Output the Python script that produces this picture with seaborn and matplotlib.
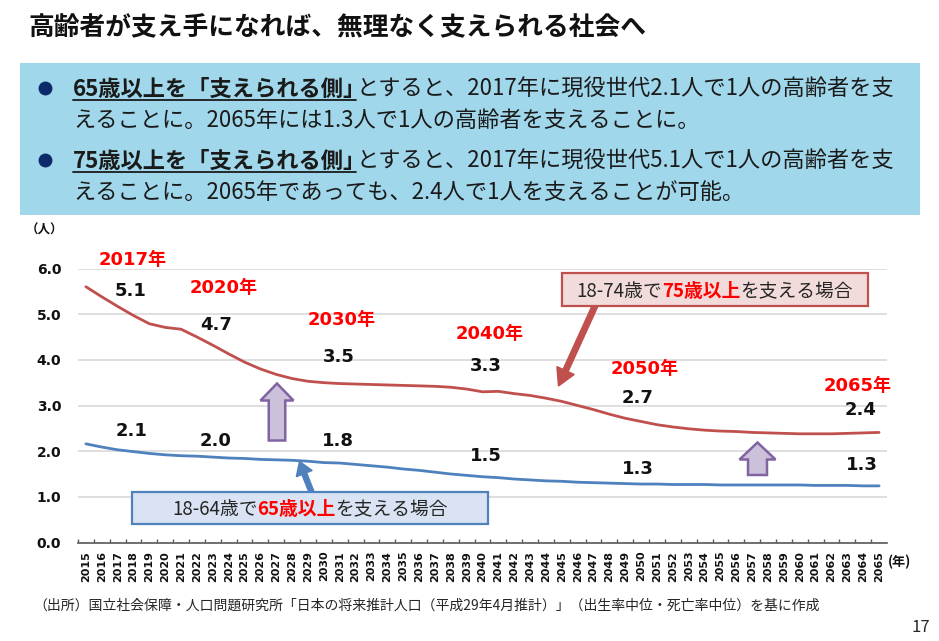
import matplotlib
matplotlib.use("Agg")
import matplotlib.pyplot as plt
import seaborn as sns
import pandas as pd
from matplotlib.patches import Rectangle, Polygon, FancyArrow
from matplotlib.transforms import Affine2D
from matplotlib.lines import Line2D

# データ
years = list(range(2015, 2066))
ratio_75 = [5.60, 5.38, 5.17, 4.97, 4.79, 4.71, 4.67, 4.50, 4.32, 4.13,
            3.95, 3.80, 3.68, 3.59, 3.53, 3.50, 3.48, 3.47, 3.46, 3.45,
            3.44, 3.43, 3.42, 3.40, 3.36, 3.30, 3.31, 3.26, 3.22, 3.16,
            3.09, 3.00, 2.91, 2.81, 2.72, 2.65, 2.58, 2.53, 2.49, 2.46,
            2.44, 2.43, 2.41, 2.40, 2.39, 2.38, 2.38, 2.38, 2.39, 2.40, 2.41]
ratio_65 = [2.16, 2.09, 2.03, 1.99, 1.95, 1.92, 1.90, 1.89, 1.87, 1.85,
            1.84, 1.82, 1.81, 1.80, 1.78, 1.75, 1.74, 1.71, 1.68, 1.65,
            1.61, 1.58, 1.54, 1.50, 1.47, 1.44, 1.42, 1.39, 1.37, 1.35,
            1.34, 1.32, 1.31, 1.30, 1.29, 1.28, 1.28, 1.27, 1.27, 1.27,
            1.26, 1.26, 1.26, 1.26, 1.26, 1.26, 1.25, 1.25, 1.25, 1.24, 1.24]
y_ticks = [0.0, 1.0, 2.0, 3.0, 4.0, 5.0, 6.0]

# 注記（年ラベルと値ラベル）
year_labels = ["2017年", "2020年", "2030年", "2040年", "2050年", "2065年"]
label_75 = ["5.1", "4.7", "3.5", "3.3", "2.7", "2.4"]
label_65 = ["2.1", "2.0", "1.8", "1.5", "1.3", "1.3"]

title = "高齢者が支え手になれば、無理なく支えられる社会へ"
source = "（出所）国立社会保障・人口問題研究所「日本の将来推計人口（平成29年4月推計）」（出生率中位・死亡率中位）を基に作成"

W, H, DPI = 939, 641, 100
RED = "#c0504d"
BLUE = "#4f81bd"
NAVY = "#0d2a6b"

sns.set_theme(style="white")
JP = ["Noto Sans CJK JP", "DejaVu Sans"]
NUM = ["DejaVu Sans", "Noto Sans CJK JP"]
plt.rcParams["font.family"] = JP

fig = plt.figure(figsize=(W / DPI, H / DPI), dpi=DPI)
# ピクセル座標（左上原点）
PX = Affine2D().scale(1 / DPI, -1 / DPI).translate(0, H / DPI) + fig.dpi_scale_trans
renderer = fig.canvas.get_renderer()


def rich(parts, x, y, size, family=JP, center=False, trim=None):
    """色・太さの違う文字列を横に並べる（trim: 各部分の後ろを詰める量 em）"""
    trim = trim or [0] * len(parts)
    em = size * DPI / 72
    arts = []
    for txt, col, wt in parts:
        arts.append(fig.text(0, 0, txt, transform=PX, fontsize=size, color=col,
                             fontweight=wt, family=family, ha="left", va="baseline"))
    widths = [a.get_window_extent(renderer).width - t * em for a, t in zip(arts, trim)]
    x0 = x - sum(widths) / 2 if center else x
    base = y + em * 0.36
    for a, w in zip(arts, widths):
        a.set_position((x0, base))
        x0 += w
    return arts, base, widths


def underline(x0, x1, base, color="#1a1a1a"):
    fig.add_artist(Line2D([x0, x1], [base + 4, base + 4], color=color,
                          lw=1.3, transform=PX))


def up_arrow(cx, y_tip, y_bot, shaft_w, head_w, head_len):
    pts = [(cx, y_tip), (cx + head_w / 2, y_tip + head_len),
           (cx + shaft_w / 2, y_tip + head_len), (cx + shaft_w / 2, y_bot),
           (cx - shaft_w / 2, y_bot), (cx - shaft_w / 2, y_tip + head_len),
           (cx - head_w / 2, y_tip + head_len)]
    fig.add_artist(Polygon(pts, closed=True, facecolor="#ccc1da", edgecolor="#8064a2",
                           lw=1.8, transform=PX))


# タイトル
fig.text(28, 28, title, transform=PX, fontsize=18.5, fontweight="bold",
         color="#111111", ha="left", va="center")

# 説明ボックス
fig.add_artist(Rectangle((20, 63), 900, 152, facecolor="#a0d7eb", edgecolor="none",
                         transform=PX))
for by in [88, 160]:
    fig.add_artist(Line2D([45], [by], marker="o", ms=9, color=NAVY, transform=PX))

bullets = [
    ("65歳以上を「支えられる側」", "とすると、2017年に現役世代2.1人で1人の高齢者を支",
     "えることに。2065年には1.3人で1人の高齢者を支えることに。", 88),
    ("75歳以上を「支えられる側」", "とすると、2017年に現役世代5.1人で1人の高齢者を支",
     "えることに。2065年であっても、2.4人で1人を支えることが可能。", 160),
]
for bold_part, rest, line2, by in bullets:
    arts, base, widths = rich([(bold_part, "#1a1a1a", "bold"), (rest, "#1a1a1a", "normal")],
                              73, by, 16, trim=[0.45, 0])
    bb = arts[0].get_window_extent(renderer)
    underline(arts[0].get_position()[0], arts[0].get_position()[0] + widths[0], base)
    rich([(line2, "#1a1a1a", "normal")], 73, by + 31, 16)

# グラフ本体
ax = fig.add_axes([78 / W, (H - 542.5) / H, 809 / W, 274 / H])
sns.lineplot(x=years, y=ratio_75, ax=ax, color=RED, lw=2.0)
sns.lineplot(x=years, y=ratio_65, ax=ax, color=BLUE, lw=2.0)

ax.set_xlim(2014.5, 2065.5)
ax.set_ylim(0, 6)
ax.set_yticks(y_ticks)
ax.set_yticklabels([f"{v:.1f}" for v in y_ticks], fontweight="bold", family=NUM,
                   fontsize=10)
ax.set_xticks(years)
ax.set_xticklabels([str(y) for y in years], rotation=90, fontweight="bold",
                   family=NUM, fontsize=8)
ax.set_xticks([y + 0.5 for y in years[:-1]] + [2014.5], minor=True)
ax.tick_params(axis="x", which="major", length=0, pad=6, colors="#111111")
ax.tick_params(axis="x", which="minor", direction="in", length=3, width=1,
               color="#595959", bottom=True)
ax.tick_params(axis="y", length=0, pad=12, colors="#111111")
ax.grid(axis="y", color="#d9d9d9", lw=1.2)
ax.set_axisbelow(True)
for s in ["top", "right", "left"]:
    ax.spines[s].set_visible(False)
ax.spines["bottom"].set_color("#595959")
ax.spines["bottom"].set_linewidth(1.2)
ax.set_xlabel("")
ax.set_ylabel("")

fig.text(45, 230, "（人）", transform=PX, fontsize=9, fontweight="bold",
         ha="center", va="center", color="#111111")
fig.text(888, 562, "(年)", transform=PX, fontsize=9.5, fontweight="bold",
         ha="left", va="center", color="#111111")

# 注記の位置（年座標, 値座標）
year_pos = [(2017.97, 6.18), (2023.71, 5.57), (2031.15, 4.87), (2040.48, 4.56),
            (2050.25, 3.81), (2063.62, 3.42)]
pos_75 = [(2017.84, 5.51), (2023.2, 4.76), (2030.96, 4.06), (2040.22, 3.86),
          (2049.8, 3.16), (2063.81, 2.91)]
pos_65 = [(2017.9, 2.45), (2023.2, 2.23), (2030.9, 2.22), (2040.22, 1.90),
          (2049.8, 1.61), (2063.93, 1.70)]
for txt, (x, y) in zip(year_labels, year_pos):
    ax.text(x, y, txt, color="#ff0000", fontweight="bold", fontsize=13, family=NUM,
            ha="center", va="center", clip_on=False)
for txt, (x, y) in zip(label_75, pos_75):
    ax.text(x, y, txt, color="#111111", fontweight="bold", fontsize=13, family=NUM,
            ha="center", va="center", clip_on=False)
for txt, (x, y) in zip(label_65, pos_65):
    ax.text(x, y, txt, color="#111111", fontweight="bold", fontsize=13, family=NUM,
            ha="center", va="center", clip_on=False)

# 上向き矢印
up_arrow(277, 383.5, 440.5, 16.5, 33, 17)
up_arrow(757.5, 442.5, 475, 19, 36, 17)

# 凡例ボックスと矢印
fig.add_artist(FancyArrow(595, 306, 558.5 - 595, 386 - 306, width=5.5, head_width=19,
                          head_length=17, length_includes_head=True, color=RED,
                          transform=PX))
fig.add_artist(Rectangle((561.7, 272.7), 306.6, 33.3, facecolor="#f2dcdb",
                         edgecolor=RED, lw=1.6, transform=PX))
rich([("18-74歳で", "#262626", "normal"), ("75歳以上", "#ff0000", "bold"),
      ("を支える場合", "#262626", "normal")], 715, 290, 13.5, center=True)

fig.add_artist(FancyArrow(311.5, 492, 299.5 - 311.5, 461.5 - 492, width=5,
                          head_width=17, length_includes_head=True, head_length=13,
                          color=BLUE, transform=PX))
fig.add_artist(Rectangle((132.3, 492.3), 355.4, 32, facecolor="#dae3f3",
                         edgecolor=BLUE, lw=1.6, transform=PX))
rich([("18-64歳で", "#262626", "normal"), ("65歳以上", "#ff0000", "bold"),
      ("を支える場合", "#262626", "normal")], 310, 508, 13.5, center=True)

# 出所とページ番号
fig.text(33, 606, source, transform=PX, fontsize=10, color="#262626",
         ha="left", va="center")
fig.text(930, 628, "17", transform=PX, fontsize=12, color="#262626",
         ha="right", va="center")

fig.savefig("out.png", dpi=DPI)
